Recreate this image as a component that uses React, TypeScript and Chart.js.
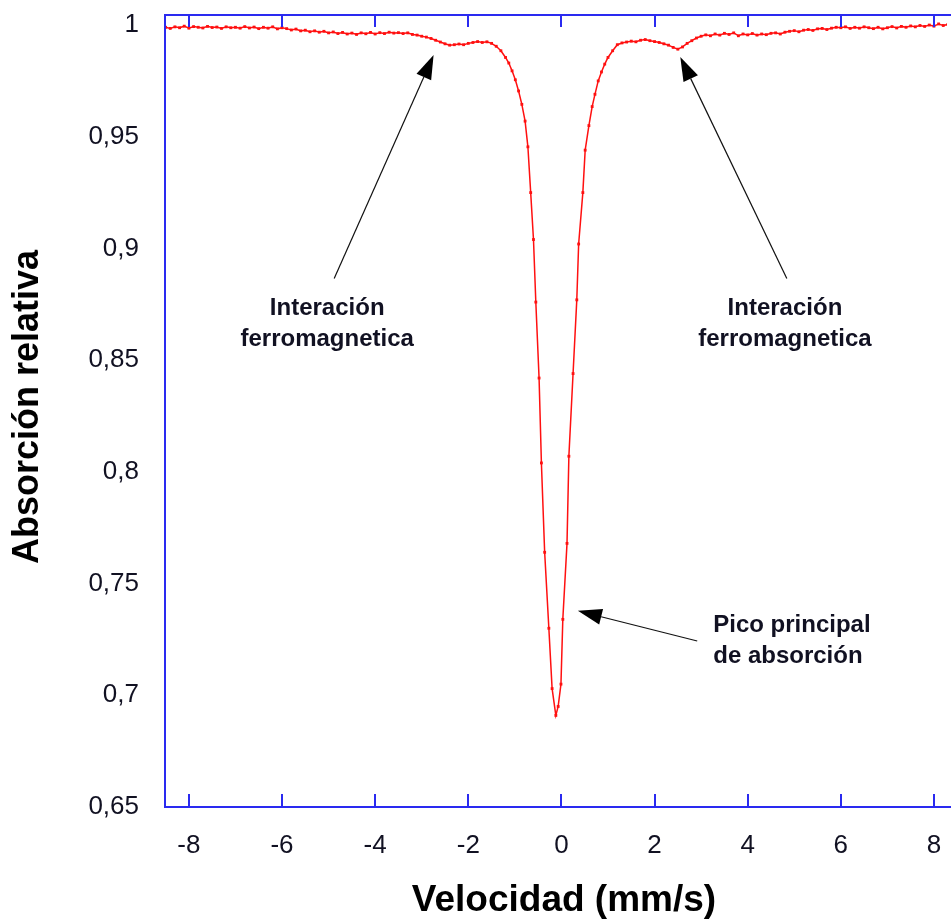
import React, { useEffect, useRef } from "react";
import { Chart, registerables } from "chart.js";

Chart.register(...registerables);

// ---- data (velocity in mm/s, relative absorption) ----
const leftVelocity = [
  -8.5, -8.4, -8.3, -8.2, -8.1, -8.0, -7.9, -7.8, -7.7, -7.6, -7.5, -7.4, -7.3, -7.2, -7.1,
  -7.0, -6.9, -6.8, -6.7, -6.6, -6.5, -6.4, -6.3, -6.2, -6.1, -6.0, -5.9, -5.8, -5.7, -5.6,
  -5.5, -5.4, -5.3, -5.2, -5.1, -5.0, -4.9, -4.8, -4.7, -4.6, -4.5, -4.4, -4.3, -4.2, -4.1,
  -4.0, -3.9, -3.8, -3.7, -3.6, -3.5, -3.4, -3.3, -3.2, -3.1, -3.0, -2.9, -2.8, -2.7, -2.6,
  -2.5, -2.4, -2.3, -2.2, -2.1, -2.0, -1.9, -1.8, -1.7, -1.6, -1.5, -1.4, -1.3,
];
const leftAbsorption = [
  0.999, 0.9985, 0.9992, 0.9988, 0.9995, 0.9986, 0.9993, 0.999, 0.9987, 0.9994, 0.9989, 0.9991, 0.9985, 0.9992, 0.9988,
  0.999, 0.9986, 0.9993, 0.9987, 0.9991, 0.9984, 0.999, 0.9986, 0.9992, 0.9983, 0.9988, 0.9984, 0.9978, 0.9982, 0.9974,
  0.9977, 0.997, 0.9974, 0.9968, 0.9972, 0.9965, 0.9969, 0.9962, 0.9967, 0.996, 0.9964, 0.9958, 0.9965, 0.9961, 0.9967,
  0.996, 0.9966, 0.9962, 0.9968, 0.9964, 0.9966, 0.9962, 0.9965, 0.9958, 0.9955, 0.995, 0.9946, 0.994, 0.9932, 0.9924,
  0.9916, 0.991, 0.9912, 0.9915, 0.9912, 0.9918, 0.9922, 0.9926, 0.9922, 0.9925, 0.9918, 0.9905, 0.9885,
];
const peakVelocity = [
  -1.2, -1.13, -1.06, -0.99, -0.92, -0.85, -0.78, -0.72, -0.66, -0.6, -0.55, -0.48, -0.43, -0.36, -0.27, -0.2,
  -0.12, -0.07, -0.01, 0.03, 0.12, 0.16, 0.25, 0.33, 0.37, 0.46, 0.51, 0.59, 0.66, 0.72, 0.79, 0.86, 0.93, 1.0,
];
const peakAbsorption = [
  0.9855, 0.983, 0.9795, 0.9755, 0.9705, 0.9645, 0.957, 0.9455, 0.925, 0.904, 0.876, 0.842, 0.804, 0.764, 0.73, 0.703,
  0.691, 0.695, 0.705, 0.734, 0.768, 0.807, 0.844, 0.877, 0.902, 0.925, 0.944, 0.955, 0.9635, 0.969, 0.975, 0.979, 0.9825, 0.9855,
];
const rightVelocity = [
  1.1, 1.2, 1.3, 1.4, 1.5, 1.6, 1.7, 1.8, 1.9, 2.0, 2.1, 2.2, 2.3, 2.4, 2.5, 2.6, 2.7, 2.8, 2.9,
  3.0, 3.1, 3.2, 3.3, 3.4, 3.5, 3.6, 3.7, 3.8, 3.9, 4.0, 4.1, 4.2, 4.3, 4.4, 4.5, 4.6, 4.7, 4.8, 4.9,
  5.0, 5.1, 5.2, 5.3, 5.4, 5.5, 5.6, 5.7, 5.8, 5.9, 6.0, 6.1, 6.2, 6.3, 6.4, 6.5, 6.6, 6.7, 6.8, 6.9,
  7.0, 7.1, 7.2, 7.3, 7.4, 7.5, 7.6, 7.7, 7.8, 7.9, 8.0, 8.1, 8.2, 8.3,
];
const rightAbsorption = [
  0.9885, 0.9912, 0.992, 0.9924, 0.9928, 0.9925, 0.9932, 0.9935, 0.993, 0.9926, 0.9922, 0.9916, 0.991, 0.99, 0.9892, 0.9902, 0.9918, 0.993, 0.9942,
  0.995, 0.9956, 0.9952, 0.996, 0.9955, 0.9963, 0.9958, 0.9965, 0.9952, 0.996, 0.9956, 0.9962, 0.9955, 0.996, 0.9957, 0.9963, 0.9965, 0.996, 0.9968, 0.9972,
  0.9975, 0.997, 0.9977, 0.998, 0.9976, 0.9983, 0.9985, 0.998, 0.9986, 0.999, 0.9988, 0.9992, 0.9985, 0.999, 0.9986, 0.9992, 0.9988, 0.9984, 0.999, 0.9983,
  0.9988, 0.9993, 0.9987, 0.9994, 0.999, 0.9996, 0.9992, 0.9998, 0.9994, 1.0, 0.9995, 1.0005, 0.9998, 1.0003,
];

const xTickValues = [-8, -6, -4, -2, 0, 2, 4, 6, 8];
const yTickValues = [0.65, 0.7, 0.75, 0.8, 0.85, 0.9, 0.95, 1];

const xTitle = "Velocidad (mm/s)";
const yTitle = "Absorción relativa";

const noteTexts = [
  { lines: ["Interación", "ferromagnetica"], x: -5.03, y: 0.8732, align: "center" },
  { lines: ["Interación", "ferromagnetica"], x: 4.8, y: 0.8732, align: "center" },
  { lines: ["Pico principal", "de absorción"], x: 3.26, y: 0.7311, align: "left" },
];
const noteArrows = [
  { fromX: -4.88, fromY: 0.8866, toX: -2.745, toY: 0.9866 },
  { fromX: 4.84, fromY: 0.8866, toX: 2.553, toY: 0.9857 },
  { fromX: 2.916, fromY: 0.7243, toX: 0.353, toY: 0.7378 },
];

const AXIS_COLOR = "#2a2af0";
const LINE_COLOR = "#ff1010";
const TEXT_COLOR = "#111122";
const FONT = "'Liberation Sans', Arial, sans-serif";

const framePlugin = {
  id: "frame",
  afterDatasetsDraw(chart: any) {
    const { ctx, chartArea: a, scales } = chart;
    const x = scales.x;
    const y = scales.y;
    ctx.save();
    ctx.strokeStyle = AXIS_COLOR;
    ctx.lineWidth = 2;
    ctx.beginPath();
    ctx.moveTo(a.right + 5, a.top);
    ctx.lineTo(a.left, a.top);
    ctx.lineTo(a.left, a.bottom);
    ctx.lineTo(a.right + 5, a.bottom);
    ctx.stroke();
    ctx.beginPath();
    xTickValues.forEach((v) => {
      const px = Math.round(x.getPixelForValue(v));
      ctx.moveTo(px, a.top);
      ctx.lineTo(px, a.top + 12);
      ctx.moveTo(px, a.bottom);
      ctx.lineTo(px, a.bottom - 13);
    });
    ctx.stroke();

    // axis titles
    ctx.fillStyle = "#000000";
    ctx.textAlign = "center";
    ctx.textBaseline = "middle";
    ctx.font = `bold 37px ${FONT}`;
    ctx.fillText(xTitle, (a.left + a.right) / 2 + 8, a.bottom + 94);
    ctx.save();
    ctx.translate(28, (a.top + a.bottom) / 2 - 4);
    ctx.rotate(-Math.PI / 2);
    ctx.font = `bold 36px ${FONT}`;
    ctx.fillText(yTitle, 0, 0);
    ctx.restore();

    // annotations
    ctx.fillStyle = TEXT_COLOR;
    ctx.font = `bold 24px ${FONT}`;
    ctx.textBaseline = "middle";
    noteTexts.forEach((n) => {
      const px = x.getPixelForValue(n.x);
      const py = y.getPixelForValue(n.y);
      ctx.textAlign = n.align as CanvasTextAlign;
      n.lines.forEach((l, i) => ctx.fillText(l, px, py + i * 31));
    });
    ctx.strokeStyle = "#111111";
    ctx.fillStyle = "#000000";
    ctx.lineWidth = 1.2;
    noteArrows.forEach((ar) => {
      const x0 = x.getPixelForValue(ar.fromX);
      const y0 = y.getPixelForValue(ar.fromY);
      const x1 = x.getPixelForValue(ar.toX);
      const y1 = y.getPixelForValue(ar.toY);
      const ang = Math.atan2(y1 - y0, x1 - x0);
      const len = 24;
      const hw = 8;
      const bx = x1 - len * Math.cos(ang);
      const by = y1 - len * Math.sin(ang);
      ctx.beginPath();
      ctx.moveTo(x0, y0);
      ctx.lineTo(bx, by);
      ctx.stroke();
      ctx.beginPath();
      ctx.moveTo(x1, y1);
      ctx.lineTo(bx + hw * Math.sin(ang), by - hw * Math.cos(ang));
      ctx.lineTo(bx - hw * Math.sin(ang), by + hw * Math.cos(ang));
      ctx.closePath();
      ctx.fill();
    });
    ctx.restore();
  },
};

export default function App() {
  const ref = useRef<HTMLCanvasElement | null>(null);
  useEffect(() => {
    if (!ref.current) return;
    const velocity = [...leftVelocity, ...peakVelocity, ...rightVelocity];
    const absorption = [...leftAbsorption, ...peakAbsorption, ...rightAbsorption];
    const points = velocity.map((v, i) => ({ x: v, y: absorption[i] }));
    const chart = new Chart(ref.current, {
      type: "line",
      data: {
        datasets: [
          {
            data: points,
            borderColor: LINE_COLOR,
            backgroundColor: LINE_COLOR,
            borderWidth: 1.5,
            pointStyle: "rect",
            pointRadius: 2,
            pointBorderWidth: 0,
            tension: 0,
          },
        ],
      },
      options: {
        animation: false,
        responsive: false,
        layout: { padding: { top: 15, right: 0, left: 0, bottom: 0 } },
        plugins: { legend: { display: false }, tooltip: { enabled: false } },
        scales: {
          x: {
            type: "linear",
            min: -8.513,
            max: 8.28,
            grid: { display: false },
            border: { display: false },
            afterBuildTicks: (s: any) => {
              s.ticks = xTickValues.map((v) => ({ value: v }));
            },
            afterFit: (s: any) => {
              s.height = 116;
              s.paddingLeft = 0;
              s.paddingRight = 0;
            },
            ticks: {
              padding: 15,
              color: TEXT_COLOR,
              font: { family: FONT, size: 26 },
              maxRotation: 0,
              callback: (v: any) => String(v),
            },
            title: { display: false },
          },
          y: {
            type: "linear",
            min: 0.65,
            max: 1.0045,
            grid: { display: false },
            border: { display: false },
            afterBuildTicks: (s: any) => {
              s.ticks = yTickValues.map((v) => ({ value: v }));
            },
            afterFit: (s: any) => {
              s.width = 165;
              s.paddingTop = 0;
              s.paddingBottom = 0;
            },
            ticks: {
              padding: 18,
              color: TEXT_COLOR,
              font: { family: FONT, size: 26 },
              callback: (v: any) => String(v).replace(".", ","),
            },
            title: { display: false },
          },
        },
      },
      plugins: [framePlugin],
    });
    return () => chart.destroy();
  }, []);
  return (
    <div style={{ position: "absolute", left: 0, top: 0, width: 951, height: 923, overflow: "hidden", background: "#fff" }}>
      <canvas ref={ref} width={951} height={923} />
    </div>
  );
}
